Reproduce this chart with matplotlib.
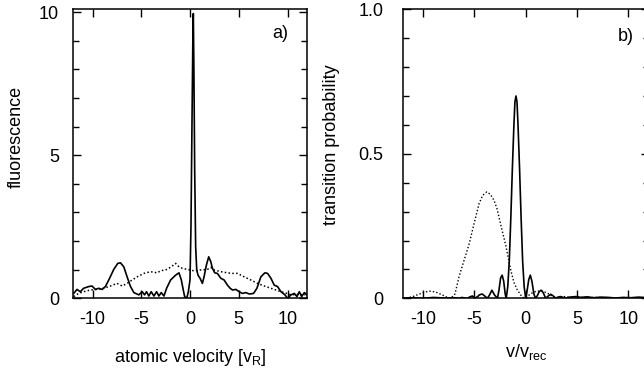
import matplotlib
matplotlib.use("Agg")
import matplotlib.pyplot as plt
from matplotlib.ticker import MultipleLocator

plt.rcParams['font.family'] = ['Liberation Sans', 'DejaVu Sans']
plt.rcParams['mathtext.fontset'] = 'custom'
plt.rcParams['mathtext.rm'] = 'Liberation Sans'
plt.rcParams['mathtext.it'] = 'Liberation Sans'

# ---------------- panel a: fluorescence vs atomic velocity ----------------
a_solid_x = [-11.93, -11.59, -11.25, -10.91, -10.39, -10.05, -9.71, -9.36, -9.02, -8.68,
             -8.33, -7.82, -7.41, -7.13, -6.79, -6.45, -6.10, -5.76, -5.25, -4.90,
             -4.66, -4.46, -4.22, -3.98, -3.70, -3.43, -3.19, -2.95, -2.67, -2.40,
             -1.99, -1.47, -1.13, -0.89, -0.69, -0.55, -0.34, -0.17, 0.00, 0.10,
             0.20, 0.30, 0.34, 0.40, 0.48, 0.58, 0.69, 0.82, 1.03, 1.27,
             1.44, 1.68, 1.92, 2.13, 2.30, 2.54, 2.81, 3.16, 3.50, 3.84,
             4.12, 4.36, 4.70, 5.04, 5.38, 5.73, 6.07, 6.52, 6.86, 7.27,
             7.68, 7.96, 8.30, 8.64, 8.98, 9.33, 9.74, 10.01, 10.36, 10.70,
             10.97, 11.21, 11.45, 11.73, 12.00]
a_solid_y = [0.17, 0.31, 0.23, 0.35, 0.41, 0.43, 0.31, 0.35, 0.31, 0.41,
             0.64, 1.01, 1.22, 1.24, 1.10, 0.75, 0.41, 0.20, 0.12, 0.23,
             0.12, 0.23, 0.08, 0.23, 0.08, 0.23, 0.08, 0.20, 0.08, 0.35,
             0.64, 0.81, 0.89, 0.64, 0.29, 0.06, 0.00, 0.23, 0.64, 2.50,
             6.00, 9.30, 9.95, 8.00, 4.50, 1.80, 1.00, 0.81, 0.70, 0.52,
             0.75, 1.16, 1.45, 1.28, 1.05, 0.89, 0.87, 0.70, 0.64, 0.46,
             0.35, 0.29, 0.31, 0.23, 0.17, 0.20, 0.15, 0.17, 0.35, 0.75,
             0.89, 0.87, 0.70, 0.46, 0.41, 0.23, 0.12, 0.00, 0.12, 0.17,
             0.06, 0.23, 0.06, 0.20, 0.12]

a_dot_x = [-11.93, -11.42, -10.91, -10.22, -9.53, -8.85, -8.16, -7.48, -6.96, -6.45,
           -5.93, -5.42, -4.73, -4.05, -3.36, -3.02, -2.33, -1.82, -1.47, -1.13,
           -0.79, -0.27, 0.41, 1.10, 1.78, 2.13, 2.47, 3.16, 3.84, 4.36,
           4.87, 5.56, 6.24, 6.93, 7.61, 8.30, 8.98, 9.67, 10.36, 11.04,
           11.73, 12.00]
a_dot_y = [0.06, 0.17, 0.23, 0.29, 0.31, 0.35, 0.43, 0.52, 0.43, 0.52,
           0.64, 0.75, 0.87, 0.93, 0.89, 0.96, 1.01, 1.13, 1.22, 1.10,
           1.05, 1.01, 0.96, 0.99, 1.01, 1.08, 0.99, 0.93, 0.89, 0.87,
           0.87, 0.75, 0.64, 0.52, 0.43, 0.35, 0.27, 0.20, 0.12, 0.14,
           0.12, 0.17]

# ---------------- panel b: transition probability vs v/v_rec ----------------
b_solid_x = [-12.0, -11.0, -10.0, -9.0, -8.0, -7.0, -6.5, -6.2, -5.9, -5.65,
             -5.45, -5.2, -4.95, -4.7, -4.5, -4.25, -4.0, -3.75, -3.55, -3.3,
             -3.05, -2.75, -2.6, -2.45, -2.3, -2.15, -2.0, -1.9, -1.75, -1.6,
             -1.45, -1.3, -1.15, -1.05, -0.95, -0.85, -0.75, -0.6, -0.45, -0.3,
             -0.15, 0.0, 0.15, 0.3, 0.45, 0.6, 0.8, 0.95, 1.15, 1.3,
             1.5, 1.7, 1.95, 2.2, 2.45, 2.7, 2.9, 3.15, 3.4, 3.65,
             3.85, 4.3, 4.9, 5.4, 6.0, 6.6, 7.3, 8.0, 8.8, 9.5,
             10.3, 11.0, 12.0]
b_solid_y = [0.0, 0.002, 0.0, 0.003, 0.001, 0.002, 0.0, 0.003, 0.0, 0.0,
             0.005, 0.008, 0.0, 0.006, 0.012, 0.015, 0.008, 0.0, 0.01, 0.028,
             0.012, 0.0, 0.03, 0.07, 0.08, 0.06, 0.015, 0.0, 0.04, 0.13,
             0.28, 0.45, 0.60, 0.68, 0.70, 0.68, 0.60, 0.45, 0.28, 0.13,
             0.04, 0.0, 0.03, 0.065, 0.08, 0.06, 0.015, 0.0, 0.01, 0.022,
             0.028, 0.02, 0.0, 0.008, 0.014, 0.008, 0.0, 0.004, 0.006, 0.003,
             0.0, 0.004, 0.006, 0.003, 0.005, 0.002, 0.004, 0.003, 0.001, 0.003,
             0.002, 0.004, 0.002]

b_dot_x = [-12.0, -11.5, -11.0, -10.5, -10.0, -9.4, -8.8, -8.2, -7.7, -7.3,
           -6.9, -6.5, -6.2, -5.85, -5.5, -5.2, -4.85, -4.55, -4.2, -3.8,
           -3.45, -3.09, -2.8, -2.6, -2.3, -1.95, -1.7, -1.46, -1.15, -0.82,
           -0.5, -0.15, 0.2, 0.6, 1.0, 1.6, 2.1, 2.5, 2.9, 3.3,
           3.8, 4.3, 5.0, 6.0, 7.0, 8.0, 9.0, 10.0, 11.0, 12.0]
b_dot_y = [0.0, 0.002, 0.006, 0.013, 0.02, 0.025, 0.022, 0.013, 0.004, 0.0,
           0.015, 0.075, 0.11, 0.15, 0.19, 0.235, 0.285, 0.328, 0.356, 0.368,
           0.360, 0.339, 0.31, 0.28, 0.235, 0.184, 0.14, 0.098, 0.055, 0.029,
           0.012, 0.0, 0.008, 0.018, 0.024, 0.026, 0.018, 0.01, 0.003, 0.002,
           0.006, 0.004, 0.003, 0.004, 0.002, 0.003, 0.001, 0.002, 0.001, 0.0]

x_ticks = [-10, -5, 0, 5, 10]
a_yticks = [0, 5, 10]
b_yticks = [0, 0.5, 1.0]
b_yticklabels = ['0', '0.5', '1.0']

W, H = 644, 376
fig = plt.figure(figsize=(W / 100, H / 100), dpi=100)

bottom = (H - 298.3) / H
top = (H - 9.3) / H
ax_a = fig.add_axes([73 / W, bottom, (307 - 73) / W, top - bottom])
ax_b = fig.add_axes([402.7 / W, bottom, (648.7 - 402.7) / W, top - bottom])

FS = 13
for ax in (ax_a, ax_b):
    ax.set_xlim(-12, 12)
    ax.set_xticks(x_ticks)
    ax.set_xticklabels([str(t) for t in x_ticks])
    ax.tick_params(axis='both', which='both', direction='in', top=True, right=True,
                   labelsize=FS, width=1.0, colors='black')
    ax.tick_params(axis='both', which='major', length=6)
    ax.tick_params(axis='both', which='minor', length=4)
    ax.tick_params(axis='x', pad=9)
    for s in ax.spines.values():
        s.set_linewidth(1.1)

ax_a.plot(a_solid_x, a_solid_y, color='black', lw=1.2)
ax_a.plot(a_dot_x, a_dot_y, color='black', lw=1.1, linestyle=(0, (1, 1.5)))
ax_a.set_ylim(0, 10.1)
ax_a.set_yticks(a_yticks)
ax_a.set_yticklabels([str(t) for t in a_yticks])
ax_a.yaxis.set_minor_locator(MultipleLocator(1))
ax_a.tick_params(axis='y', pad=10)
ax_a.set_ylabel('fluorescence', fontsize=FS)
ax_a.yaxis.set_label_coords(-0.205, 0.56)
ax_a.set_xlabel('atomic velocity [v$_\\mathrm{R}$]', fontsize=FS)
ax_a.xaxis.set_label_coords(0.5, -0.17)
ax_a.text(0.885, 0.915, 'a)', transform=ax_a.transAxes, fontsize=FS,
          ha='center', va='center')

ax_b.plot(b_solid_x, b_solid_y, color='black', lw=1.2)
ax_b.plot(b_dot_x, b_dot_y, color='black', lw=1.0, linestyle=(0, (1, 1.5)))
ax_b.set_ylim(0, 1.0)
ax_b.set_yticks(b_yticks)
ax_b.set_yticklabels(b_yticklabels)
ax_b.yaxis.set_minor_locator(MultipleLocator(0.1))
ax_b.tick_params(axis='y', pad=14)
ax_b.set_ylabel('transition probability', fontsize=FS)
ax_b.yaxis.set_label_coords(-0.255, 0.53)
ax_b.set_xlabel('v/v$_\\mathrm{rec}$', fontsize=FS)
ax_b.xaxis.set_label_coords(0.5, -0.15)
ax_b.text(0.905, 0.905, 'b)', transform=ax_b.transAxes, fontsize=FS,
          ha='center', va='center')

fig.savefig('out.png', dpi=100)
